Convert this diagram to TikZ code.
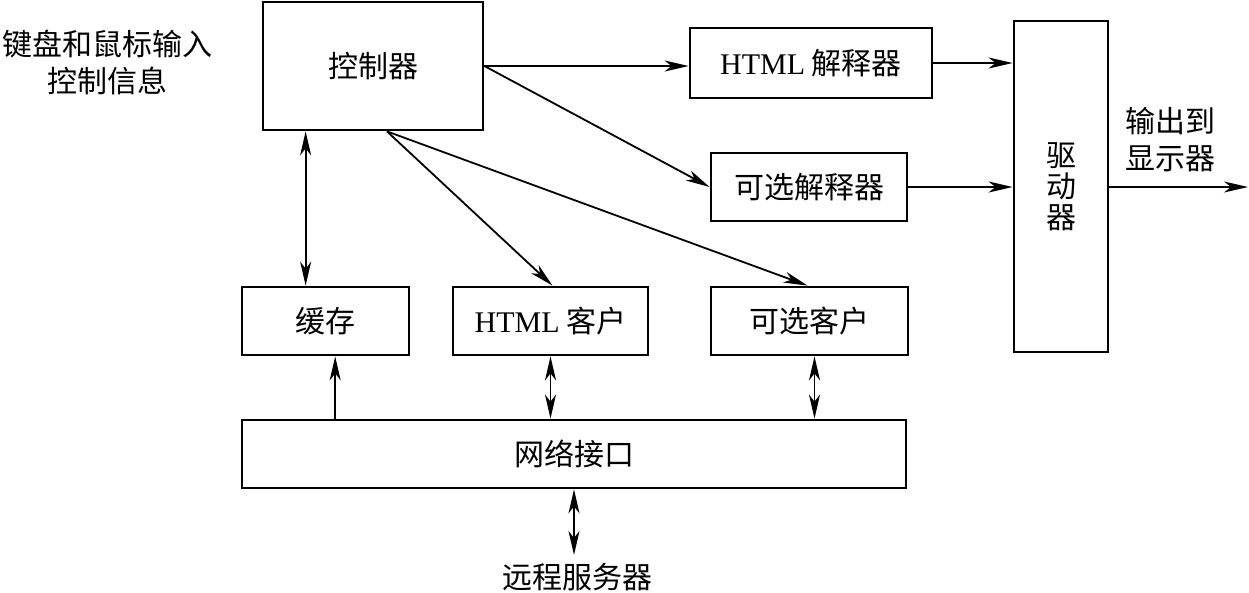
\documentclass[tikz,border=0pt]{standalone}
\usepackage{fontspec}
\setmainfont{Liberation Serif}
\newfontfamily\cjk{Noto Sans CJK SC}
\usetikzlibrary{arrows.meta,calc}
\tikzset{
  box/.style={draw, line width=2.8pt, inner sep=0pt, font=\cjk\fontsize{30}{36}\selectfont},
  lbl/.style={inner sep=0pt, align=center, font=\cjk\fontsize{30}{37}\selectfont},
  arr/.style={line width=1.8pt, -{Stealth[length=24pt,width=11pt,inset=7pt]}},
  darr/.style={line width=1.8pt, {Stealth[length=24pt,width=11pt,inset=7pt]}-{Stealth[length=24pt,width=11pt,inset=7pt]}}
}
\begin{document}
\begin{tikzpicture}[x=1pt,y=-1pt]
\useasboundingbox (0,0) rectangle (1249,592);
% boxes
\node[box, minimum width=220pt, minimum height=128pt] (ctrl) at (373,66) {控制器};
\node[box, minimum width=242pt, minimum height=70pt] (htmli) at (811,63) {{\rmfamily HTML} 解释器};
\node[box, minimum width=196pt, minimum height=68pt] (opti) at (809,187) {可选解释器};
\node[box, minimum width=94pt, minimum height=331pt, align=center, font=\cjk\fontsize{30}{31}\selectfont] (drv) at (1061,186.5) {驱\\动\\器};
\node[box, minimum width=167pt, minimum height=68pt] (cache) at (325.5,321) {缓存};
\node[box, minimum width=195pt, minimum height=68pt] (htmlc) at (550.5,321) {{\rmfamily HTML} 客户};
\node[box, minimum width=197pt, minimum height=68pt] (optc) at (809.5,321) {可选客户};
\node[box, minimum width=664pt, minimum height=68pt] (net) at (574,454) {网络接口};
% free labels
\node[lbl] (kbd) at (107,62) {键盘和鼠标输入\\控制信息};
\node[lbl] (outlbl) at (1170,140) {输出到\\显示器};
\node[lbl] (remote) at (577,577) {远程服务器};
% helper coordinates
\coordinate (cs) at ($(ctrl.south)+(14,0)$);
\coordinate (cc) at ($(cache.north west)!0.383!(cache.north east)$);
\coordinate (cn) at ($(cache.south west)!0.557!(cache.south east)$);
\coordinate (oc) at ($(optc.south)+(5,0)$);
\coordinate (out) at (1248,187);
% connectors
\draw[arr] (ctrl.east) -- (ctrl.east -| htmli.west);
\draw[arr] (ctrl.east) -- (opti.west);
\draw[arr] (cs) -- ($(htmlc.north)+(2,0)$);
\draw[arr] (cs) -- ($(optc.north)+(-2,0)$);
\draw[darr] (cc |- ctrl.south) -- (cc);
\draw[arr] (cn |- net.north) -- (cn);
\draw[darr] (htmlc.south) -- (htmlc.south |- net.north);
\draw[darr] (oc) -- (oc |- net.north);
\draw[darr] (net.south) -- ($(net.south |- remote.north)+(0,-8)$);
\draw[arr] (htmli.east) -- (htmli.east -| drv.west);
\draw[arr] (opti.east) -- (opti.east -| drv.west);
\draw[arr] (drv.east |- out) -- (out);
\end{tikzpicture}
\end{document}
